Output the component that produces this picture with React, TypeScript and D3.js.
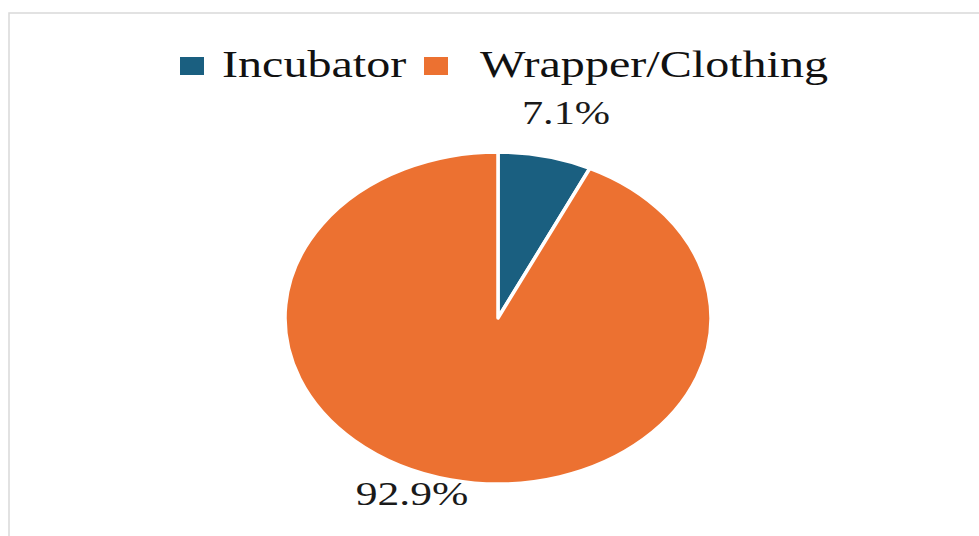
import React from "react";
import * as d3 from "d3";

const categories = ["Incubator", "Wrapper/Clothing"];
const values = [7.1, 92.9];
const labels = ["7.1%", "92.9%"];
const colors = ["#1a5f80", "#ec7131"];

const W = 979;
const H = 536;
const CX = 498;
const CY = 318;
const R = 166;
const SX = 1.283;
const FONT = "'Liberation Serif', 'Times New Roman', serif";

export default function App() {
  const pie = d3.pie<number>().sort(null).value((d) => d)(values);
  const arc = d3.arc<d3.PieArcDatum<number>>().innerRadius(0).outerRadius(R);
  const legendX = [180, 424];
  const legendTextX = [222, 480];
  const labelPos = [
    { x: 566, y: 124 },
    { x: 412, y: 505 },
  ];
  return (
    <svg width={W} height={H} style={{ position: "absolute", left: 0, top: 0, background: "#fff" }}>
      <rect x={9} y={13} width={W + 20} height={H + 20} fill="#fff" stroke="#d9d9d9" strokeWidth={1.5} />
      <g transform={`translate(${CX},${CY}) scale(${SX},1)`}>
        {pie.map((p, i) => (
          <path
            key={i}
            d={arc(p) || ""}
            fill={colors[i]}
            stroke="#fff"
            strokeWidth={3.5}
            strokeLinejoin="round"
            vectorEffect="non-scaling-stroke"
          />
        ))}
      </g>
      {categories.map((c, i) => (
        <g key={c}>
          <rect x={legendX[i]} y={57} width={24} height={18} fill={colors[i]} />
          <text
            transform={`translate(${legendTextX[i]},77) scale(${SX},1)`}
            fontFamily={FONT}
            fontSize={37.5}
            fill="#111"
          >
            {c}
          </text>
        </g>
      ))}
      {labels.map((l, i) => (
        <text
          key={l}
          transform={`translate(${labelPos[i].x},${labelPos[i].y}) scale(${SX},1)`}
          textAnchor="middle"
          fontFamily={FONT}
          fontSize={i === 0 ? 33 : 34}
          fill="#1a1a1a"
        >
          {l}
        </text>
      ))}
    </svg>
  );
}
